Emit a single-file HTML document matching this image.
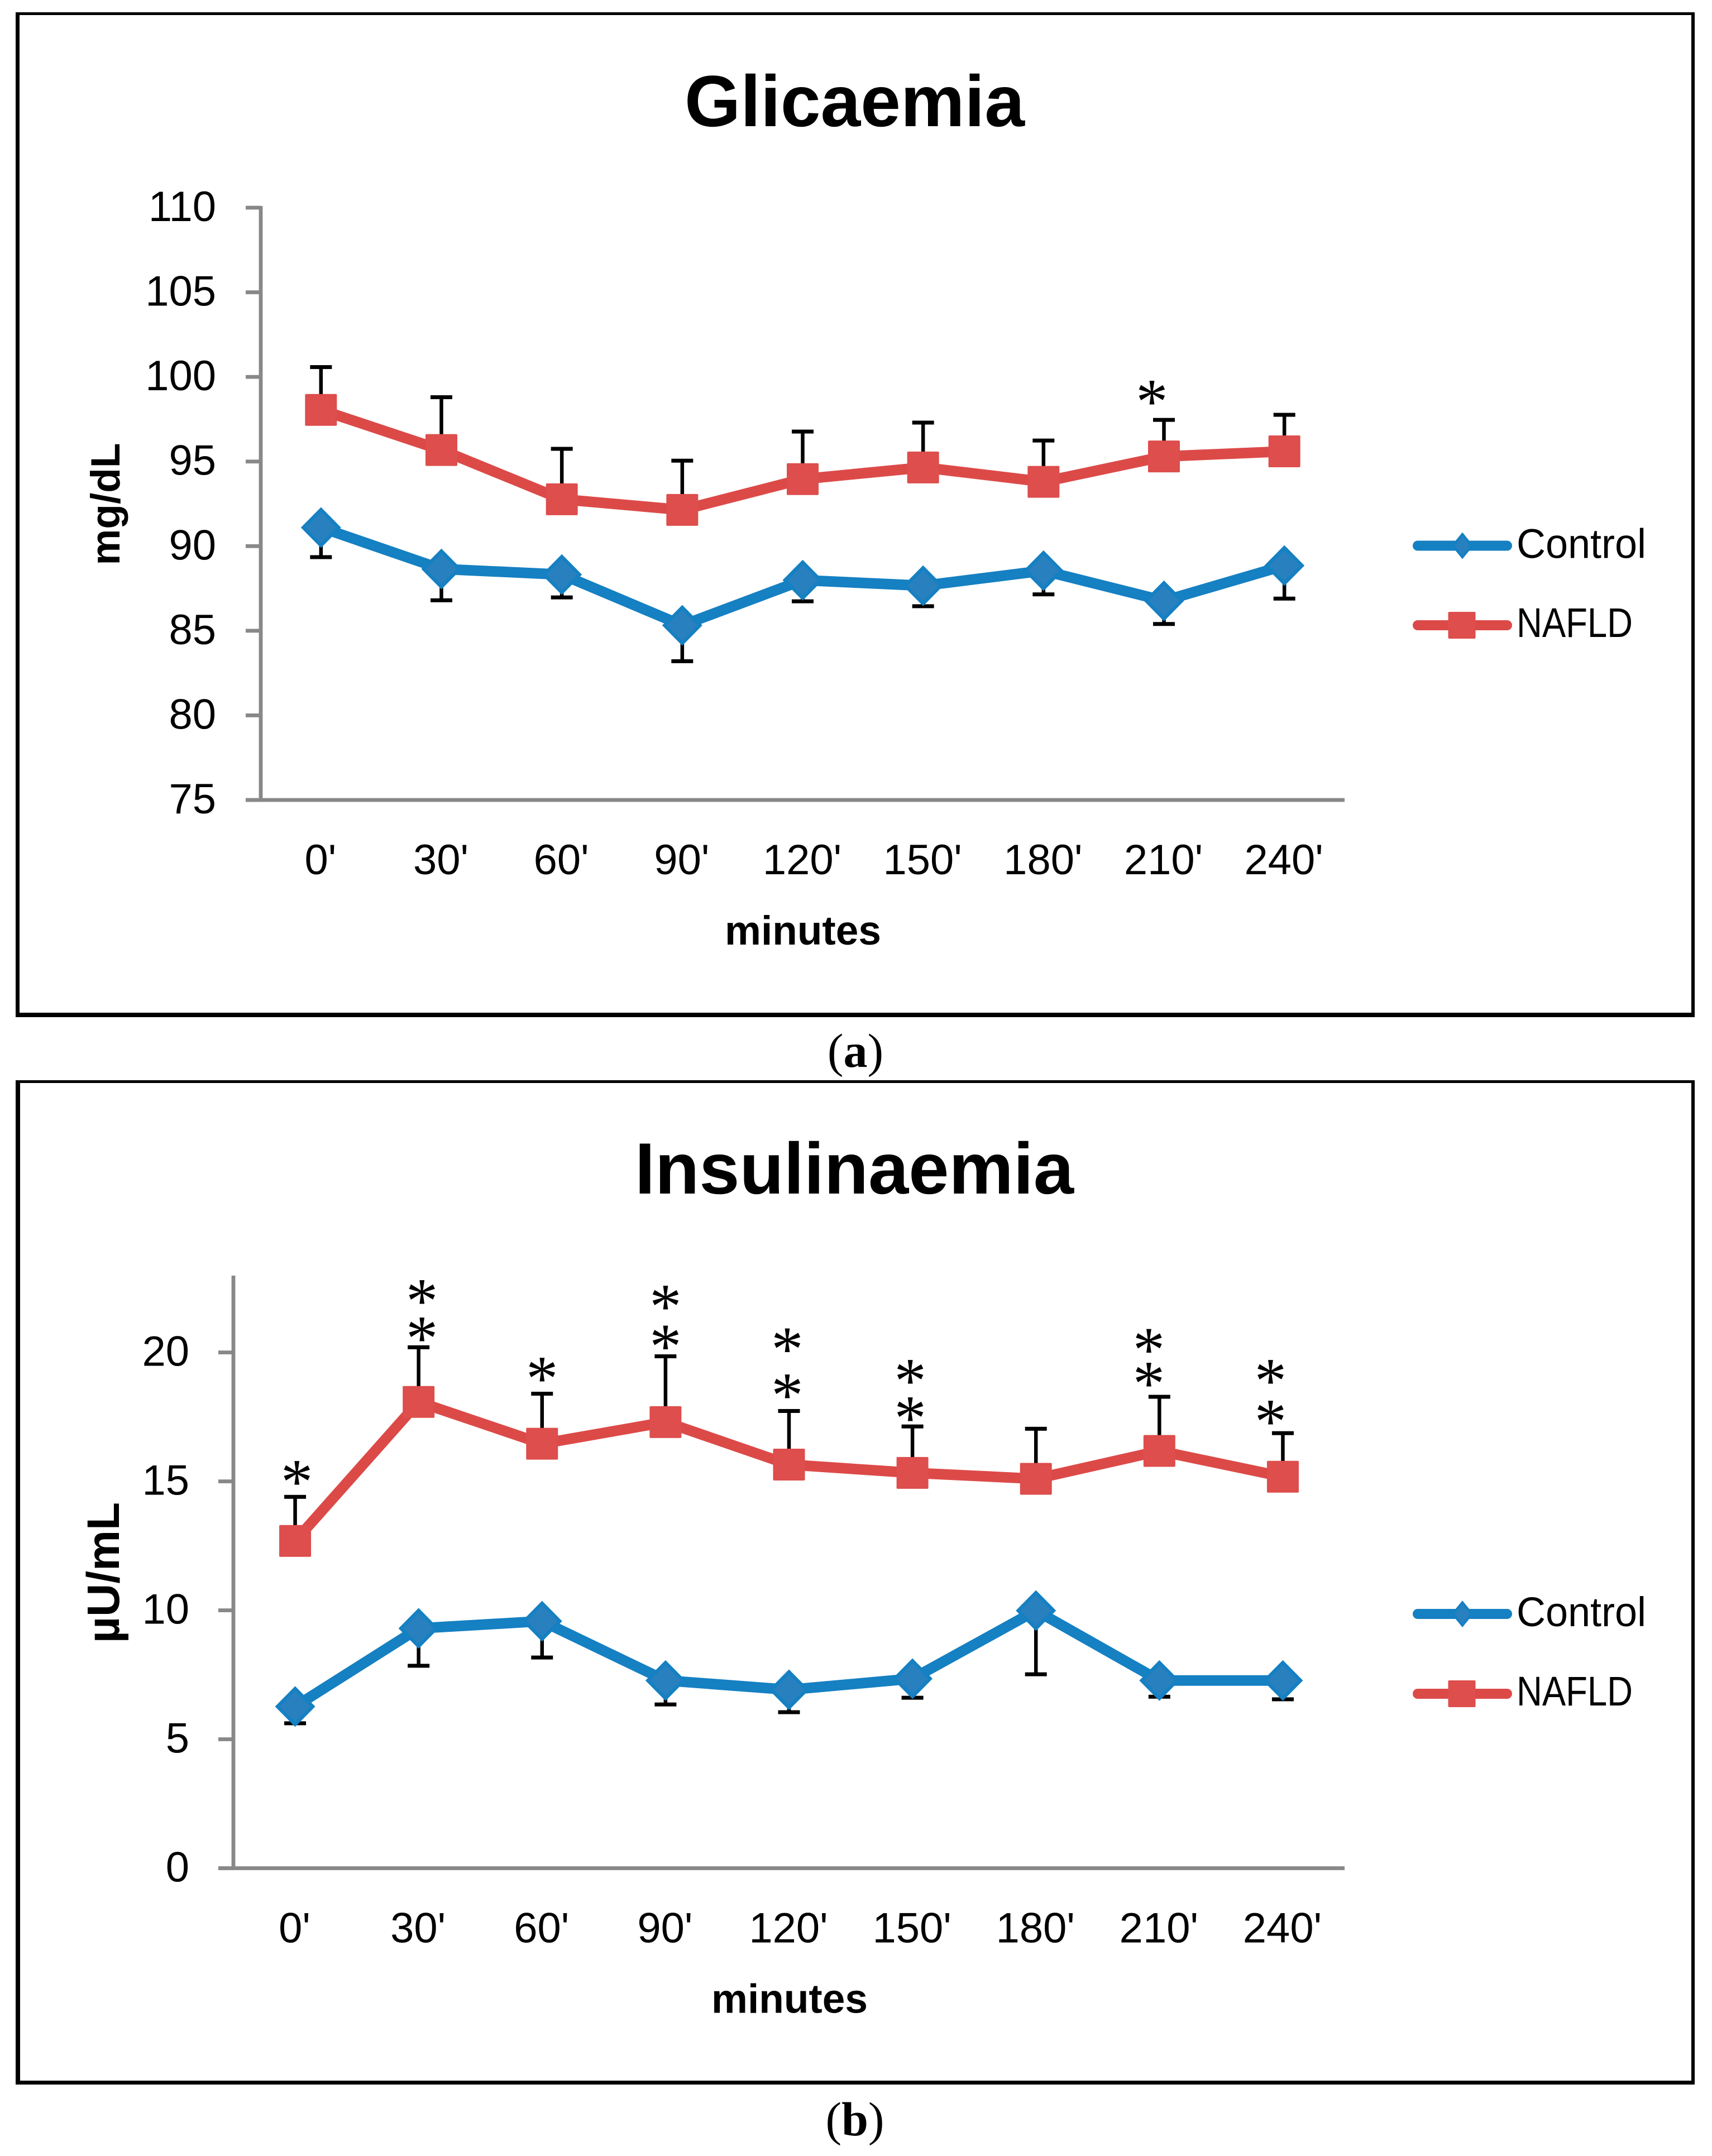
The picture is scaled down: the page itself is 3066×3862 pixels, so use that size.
<!DOCTYPE html>
<html lang="en">
<head>
<meta charset="utf-8">
<title>Glicaemia and Insulinaemia</title>
<style>
html,body{margin:0;padding:0;background:#fff;width:3066px;height:3862px;overflow:hidden}
svg{display:block;position:absolute;left:0;top:0}
text{font-family:"Liberation Sans",sans-serif;fill:#000}
</style>
</head>
<body>
<svg id="figure" xmlns="http://www.w3.org/2000/svg" width="3066" height="3862" viewBox="0 0 3066 3862">
  <rect x="0" y="0" width="3066" height="3862" fill="#fff"/>
  <g fill="#000">
    <rect x="28" y="22" width="7" height="1800"/>
    <rect x="28" y="22" width="3007" height="5"/>
    <rect x="3029" y="22" width="6" height="1800"/>
    <rect x="28" y="1814" width="3007" height="8"/>
  </g>
  <g fill="#000">
    <rect x="28" y="1935" width="8" height="1799"/>
    <rect x="28" y="1935" width="3007" height="5"/>
    <rect x="3029" y="1935" width="6" height="1799"/>
    <rect x="28" y="3727" width="3007" height="7"/>
  </g>
  <text x="1532" y="1911" text-anchor="middle" font-size="86" style="font-family:'Liberation Serif',serif">(<tspan font-weight="bold">a</tspan>)</text>
  <text x="1531" y="3825" text-anchor="middle" font-size="86" style="font-family:'Liberation Serif',serif">(<tspan font-weight="bold">b</tspan>)</text>
  <g id="chart-a"></g>
  <g id="chart-b"></g>
</svg>
<script>
// Shared category labels
var categories = ["0'", "30'", "60'", "90'", "120'", "150'", "180'", "210'", "240'"];

// Glicaemia (mg/dL)
var glicTicks = [75, 80, 85, 90, 95, 100, 105, 110];
var glicControl = [91.1, 88.65, 88.32, 85.32, 87.99, 87.66, 88.55, 86.77, 88.85];
var glicControlLow = [89.35, 86.8, 86.97, 83.2, 86.74, 86.45, 87.15, 85.4, 86.9];
var glicNafld = [98.05, 95.68, 92.77, 92.14, 93.96, 94.65, 93.8, 95.3, 95.6];
var glicNafldHigh = [100.58, 98.8, 95.75, 95.05, 96.77, 97.3, 96.24, 97.46, 97.76];
var glicStarLevels = [[], [], [], [], [], [], [], [99.05], []];
var glicStarShift = [0, 0, 0, 0, 0, 0, 0, -0.1, 0];

// Insulinaemia (uU/mL)
var insTicks = [0, 5, 10, 15, 20];
var insControl = [6.27, 9.3, 9.58, 7.28, 6.92, 7.35, 9.99, 7.28, 7.28];
var insControlLow = [5.62, 7.85, 8.17, 6.35, 6.05, 6.61, 7.52, 6.65, 6.55];
var insNafld = [12.69, 18.08, 16.46, 17.3, 15.65, 15.33, 15.1, 16.18, 15.18];
var insNafldHigh = [14.4, 20.2, 18.4, 19.85, 17.73, 17.13, 17.04, 18.28, 16.87];
var insStarLevels = [[15.31], [20.88, 22.33], [19.32], [20.57, 22.11], [18.67, 20.46], [17.78, 19.23], [], [19.13, 20.44], [17.65, 19.23]];
var insStarShift = [0.014, 0.027, 0, 0, -0.014, -0.018, 0, -0.086, -0.1];

var NS = 'http://www.w3.org/2000/svg';
var BLUE = '#1580c2', BLUE_IN = '#2880bf', RED = '#dc4a48', RED_IN = '#dd4e4c', GRAY = '#888888';

function make(parent, tag, attrs, txt) {
  var el = document.createElementNS(NS, tag);
  for (var k in attrs) el.setAttribute(k, attrs[k]);
  if (txt !== undefined) el.textContent = txt;
  parent.appendChild(el);
  return el;
}

function drawDiamond(g, cx, cy, hw, hh, ihw, ihh) {
  var outer = make(g, 'polygon', {points: [cx, cy - hh, cx + hw, cy, cx, cy + hh, cx - hw, cy].join(' '), fill: BLUE});
  
  
  var inner = make(g, 'polygon', {points: [cx, cy - ihh, cx + ihw, cy, cx, cy + ihh, cx - ihw, cy].join(' '), fill: BLUE_IN});
  
  
}

function drawSquare(g, cx, cy, w, h) {
  var sq = make(g, 'rect', {x: cx - w / 2, y: cy - h / 2, width: w, height: h, rx: 2, fill: RED_IN});
  
  
}

function drawErrorBar(g, x, y0, y1) {
  var stem = make(g, 'line', {x1: x, x2: x, y1: y0, y2: y1, stroke: '#000', 'stroke-width': 6.5});
  
  
  var cap = make(g, 'rect', {x: x - 19.5, y: y1 - 3.5, width: 39, height: 7, fill: '#000'});
  
  
}

function renderChart(root, c) {
  function xScale(i) { return c.left + (i + 0.5) * (c.right - c.left) / c.categories.length; }
  function yScale(v) { return c.bottom - (v - c.min) * (c.bottom - c.top) / (c.max - c.min); }

  var title = make(root, 'text', {x: c.titleX, y: c.titleY, 'text-anchor': 'middle', 'font-size': 130, 'font-weight': 'bold', textLength: c.titleLen, lengthAdjust: 'spacingAndGlyphs'}, c.title);
  
  

  // axes
  var yAxis = make(root, 'rect', {x: c.left - 3.4, y: c.top - c.axisOverhang, width: 6.8, height: c.bottom - c.top + c.axisOverhang + 3, fill: GRAY});
  
  
  var xAxis = make(root, 'rect', {x: c.left - 27, y: c.bottom - 3.4, width: c.right - c.left + 27, height: 6.8, fill: GRAY});
  
  

  c.ticks.forEach(function (t) {
    var y = yScale(t);
    var tick = make(root, 'rect', {x: c.left - 27, y: y - 3.4, width: 27, height: 6.8, fill: GRAY});
    
    
    var lab = make(root, 'text', {x: c.tickLabelX, y: y + 24, 'text-anchor': 'end', 'font-size': 76}, String(t));
    
    
  });

  c.categories.forEach(function (cat, i) {
    var lab = make(root, 'text', {x: xScale(i) - 1, y: c.bottom + 133, 'text-anchor': 'middle', 'font-size': 76}, cat);
    
    
  });

  var xTitle = make(root, 'text', {x: c.xTitleX, y: c.bottom + 259, 'text-anchor': 'middle', 'font-size': 73, 'font-weight': 'bold'}, 'minutes');
  
  

  var yTitle = make(root, 'text', {transform: 'translate(' + c.yTitleX + ' ' + c.yTitleY + ') rotate(-90)', 'text-anchor': 'middle', 'font-size': c.yTitleSize, 'font-weight': 'bold'}, c.yTitle);
  
  

  // error bars under the series
  var bars = make(root, 'g', {});
  
  
  c.control.forEach(function (v, i) { drawErrorBar(bars, xScale(i), yScale(v), yScale(c.controlLow[i])); });
  c.nafld.forEach(function (v, i) { drawErrorBar(bars, xScale(i), yScale(v), yScale(c.nafldHigh[i])); });

  // control series
  var gc = make(root, 'g', {});
  
  
  var lc = make(gc, 'polyline', {points: c.control.map(function (v, i) { return xScale(i) + ',' + yScale(v); }).join(' '), fill: 'none', stroke: BLUE, 'stroke-width': 19, 'stroke-linejoin': 'round'});
  
  
  c.control.forEach(function (v, i) { drawDiamond(gc, xScale(i), yScale(v), 36, 36.5, 27.5, 27.5); });

  // NAFLD series
  var gn = make(root, 'g', {});
  
  
  var ln = make(gn, 'polyline', {points: c.nafld.map(function (v, i) { return xScale(i) + ',' + yScale(v); }).join(' '), fill: 'none', stroke: RED, 'stroke-width': 19, 'stroke-linejoin': 'round'});
  
  
  c.nafld.forEach(function (v, i) { drawSquare(gn, xScale(i), yScale(v), 57, 57); });

  // significance stars
  c.starLevels.forEach(function (levels, i) {
    levels.forEach(function (lv) {
      var star = make(root, 'text', {x: xScale(i + c.starShift[i]), y: yScale(lv) + 54, 'text-anchor': 'middle', 'font-size': 115}, '*');
      star.style.fontFamily = '"Liberation Serif", serif';
      
      
    });
  });

  // legend
  var lg = make(root, 'g', {});
  
  
  var l1 = make(lg, 'line', {x1: 2539, x2: 2699, y1: c.legendY1, y2: c.legendY1, stroke: BLUE, 'stroke-width': 18, 'stroke-linecap': 'round'});
  
  
  drawDiamond(lg, 2619, c.legendY1, 19.5, 24, 13, 18);
  var t1 = make(lg, 'text', {x: 2716, y: c.legendY1 + 22, 'font-size': 74, textLength: 232, lengthAdjust: 'spacingAndGlyphs'}, 'Control');
  
  
  var l2 = make(lg, 'line', {x1: 2539, x2: 2699, y1: c.legendY2, y2: c.legendY2, stroke: RED, 'stroke-width': 18, 'stroke-linecap': 'round'});
  
  
  drawSquare(lg, 2618, c.legendY2, 49, 48);
  var t2 = make(lg, 'text', {x: 2716, y: c.legendY2 + 21, 'font-size': 74, textLength: 208, lengthAdjust: 'spacingAndGlyphs'}, 'NAFLD');
  
  
}

renderChart(document.getElementById('chart-a'), {
  title: 'Glicaemia', titleX: 1530.5, titleY: 226, titleLen: 609,
  yTitle: 'mg/dL', yTitleSize: 73, yTitleX: 214, yTitleY: 903,
  categories: categories, ticks: glicTicks,
  control: glicControl, controlLow: glicControlLow, nafld: glicNafld, nafldHigh: glicNafldHigh,
  starLevels: glicStarLevels, starShift: glicStarShift,
  left: 467, right: 2408, top: 372, bottom: 1433, min: 75, max: 110, axisOverhang: 3,
  tickLabelX: 387, xTitleX: 1438, legendY1: 977.5, legendY2: 1120
});

renderChart(document.getElementById('chart-b'), {
  title: 'Insulinaemia', titleX: 1530, titleY: 2138, titleLen: 786,
  yTitle: '\u00B5U/mL', yTitleSize: 82, yTitleX: 213, yTitleY: 2817,
  categories: categories, ticks: insTicks,
  control: insControl, controlLow: insControlLow, nafld: insNafld, nafldHigh: insNafldHigh,
  starLevels: insStarLevels, starShift: insStarShift,
  left: 418, right: 2408, top: 2284, bottom: 3346.5, min: 0, max: 23, axisOverhang: -1,
  tickLabelX: 339, xTitleX: 1414, legendY1: 2891, legendY2: 3034
});
</script>
</body>
</html>
